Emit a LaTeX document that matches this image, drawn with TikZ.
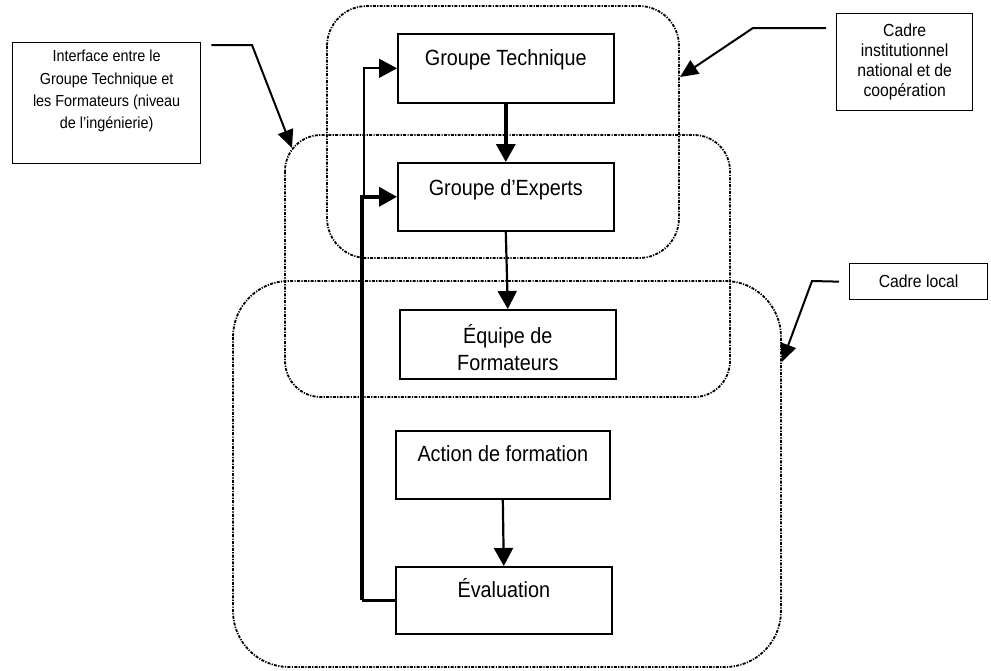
\documentclass[tikz,border=0pt]{standalone}
\usepackage{fontspec}
\setmainfont[FakeStretch=0.9]{Liberation Sans}
\usetikzlibrary{arrows.meta}
\begin{document}
\begin{tikzpicture}[x=1pt,y=-1pt,
  box/.style={draw, line width=1.6pt, fill=white, inner sep=0pt, anchor=north west, font=\fontsize{22}{27}\selectfont},
  region/.style={line width=1.8pt, dash pattern=on 3pt off 1.3pt on 1.2pt off 1.3pt},
  note/.style={draw, line width=1.3pt, fill=white, inner sep=0pt, anchor=north west, align=center},
  flow/.style={-{Triangle[length=18pt,width=19pt]}},
  lead/.style={line width=2pt, -{Triangle[length=18pt,width=16pt]}}
]
\useasboundingbox (0,0) rectangle (991,670);
% regions
\draw[region, rounded corners=40pt] (327,6) rectangle (679,258);
\draw[region, rounded corners=36pt] (285,135) rectangle (730,397);
\draw[region, rounded corners=56pt] (233,281) rectangle (781,667);
% boxes
\node[box, minimum width=216pt, text height=32pt, text depth=37pt] (gt) at (397,33) {Groupe Technique};
\node[box, minimum width=216pt, text height=33pt, text depth=35pt] (ge) at (397,162) {Groupe d’Experts};
\node[box, minimum width=216pt, align=center, text height=61pt, text depth=8pt] (eq) at (399,309) {Équipe de\\Formateurs};
\node[box, minimum width=214pt, text height=31pt, text depth=37pt] (act) at (395,430) {Action de formation};
\node[box, minimum width=216pt, text height=31pt, text depth=36pt] (ev) at (395,566) {Évaluation};
% flow arrows
\draw[flow, line width=3.5pt] (gt.south) -- (ge.north);
\draw[flow, line width=2.2pt] (ge.south) -- (eq.north);
\draw[flow, line width=2.2pt] (act.south) -- (ev.north);
\draw[line width=2.4pt] (ev.west) -- ++(-33,0) coordinate (j);
\draw[flow, line width=3.8pt] (j) |- (ge.west);
\coordinate (k) at (364,197);
\draw[flow, line width=1.7pt] (k) |- (gt.west);
% callouts
\node[note, minimum width=188pt, text height=86pt, text depth=35pt, font=\fontsize{16}{22.3}\selectfont] (iface) at (12,42) {Interface entre le\\Groupe Technique et\\les Formateurs (niveau\\de l’ingénierie)};
\node[note, minimum width=136pt, minimum height=97pt, font=\fontsize{17.5}{20}\selectfont] (cin) at (836,13) {Cadre\\institutionnel\\national et de\\coopération};
\node[note, minimum width=138pt, minimum height=36pt, font=\fontsize{17.5}{20}\selectfont] (cloc) at (849,263) {Cadre local};
% leaders
\coordinate (i1) at (252,45); \coordinate (i2) at (292,148);
\draw[lead] ([shift={(10pt,-3pt)}]iface.north east) -- (i1) -- (i2);
\coordinate (c1) at (753,28); \coordinate (c2) at (680,77);
\draw[lead] ([shift={(-10pt,-15pt)}]cin.north west) -- (c1) -- (c2);
\coordinate (l1) at (812,281); \coordinate (l2) at (782,362);
\draw[lead] ([xshift=-10pt]cloc.west) -- (l1) -- (l2);
\end{tikzpicture}
\end{document}
